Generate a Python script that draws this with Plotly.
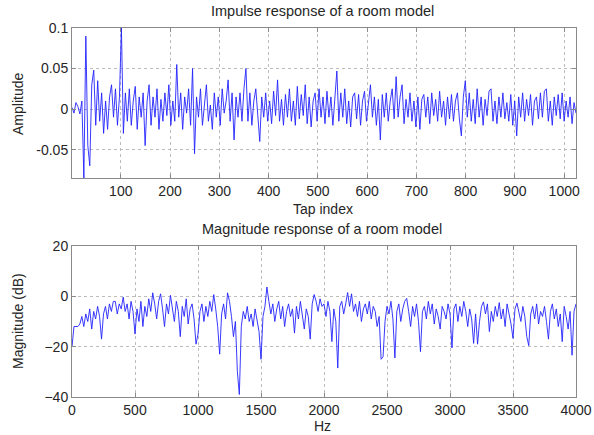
import numpy as np
import plotly.graph_objects as go

# ---------------- data ----------------
# Impulse response amplitude, in thousandths, 256 samples spanning taps 1..1024
impulse_milli = [
    2, -5, 8, 3, -6, 10, -85, 90, -45, -70, 30, 48, -20, 35, -15, 20,
    -30, 10, -25, 15, 30, -10, 25, -20, 15, 100, -30, 20, -15, 25, -20, 10,
    28, -25, 15, -10, 20, -45, 10, 30, -20, 15, -10, 25, -25, 12, -15, 20,
    -8, 30, -20, 10, -15, 55, -10, 20, -25, 15, -5, 25, -20, 50, -55, 15,
    -10, 25, -20, 10, 30, -15, 5, -25, 20, -10, 15, -20, 25, -5, 10, 36,
    -15, 20, -38, 15, -10, 20, -15, 25, 50, -15, 20, -20, 10, 25, -10, -40,
    15, -10, 20, -15, 10, -18, 22, -8, 36, -15, 12, -20, 18, -10, 25, -15,
    10, -20, 28, -12, 18, -8, 30, -18, 15, -22, 10, 20, -15, 25, -10, 15,
    -18, 22, -10, 15, -20, 12, 47, -15, 20, -10, 25, -18, 10, -22, 15, 20,
    -12, 18, -20, 10, 22, -15, 8, 30, -10, 15, -20, 12, -38, 18, -10, 20,
    -15, 10, 25, -12, 40, -10, 15, 30, -18, 12, -10, 20, -15, 10, -22, 15,
    -25, 12, 18, -10, 15, -18, 20, -8, 12, -15, 22, -10, 10, -20, 15, -12,
    18, -15, 10, 20, -12, -33, 15, 35, -10, 20, -15, 12, -18, 25, -10, 15,
    -20, 12, -8, 22, 25, -15, 10, -18, 15, -10, 20, -12, 8, -15, 18, -20,
    10, -33, 15, -10, 20, -15, 12, -8, 18, -20, 10, 15, -12, 20, -10, 22,
    25, -15, 10, -20, 15, -8, 18, -12, 20, -15, 10, -10, 15, -18, 8, -5,
]
tap_first, tap_last = 1, 1024

# Magnitude response in dB, 257 samples spanning 0..4000 Hz
magnitude_db = [
    -20, -12, -12, -12, -11, -8, -12, -7, -10, -5, -13, -6, -9, -4, -8, -17,
    -7, -4, -9, -3, -6, -2, -2, -7, -3, -5, -0.3, -6, -3, -9, -2, -6,
    -15, -5, -10, -2, -12, -4, -8, -1, -6, 1.4, -3, -9, -2, 1, -5, -12,
    -3, -7, 0.4, -4, -10, -2, -6, -16, -4, -8, -1, -11, -5, -3, -9, -19,
    -15, -6, -3, -10, -4, -8, -2, -6, 0.7, -5, -12, -23, -7, -3, -9, 1.4,
    -2, -8, -16, -10, -30, -39, -12, -6, -9, -4, -10, -7, -12, -5, -9, -14,
    -25, -8, -4, 3.7, -2, -7, -3, -10, -5, -2, -9, -4, -12, -6, -3, -8,
    -5, -14.6, -4, -9, -2, -7, -13, -5, -8, -17, -3, 0.7, -2, -6, -1, -4,
    -3, -8, -2, -6, -18, -5, -10, -28.5, -4, -2, -7, -3, 1.5, -4, 1, -6,
    -3, -8, -2, -10, -5, -3, -7, -2, -9, -4, -6, -12, -8, -25, -24, -10,
    -4, -7, -2, -9, -24.5, -6, -3, -10, -5, -2, -0.8, -6, -12, -4, -8, -3,
    -10, -22, -6, -4, -9, -2, -7, -3, -11, -5, -8, -13, -4, -6, -9, -3,
    -7, -20.5, -5, -3, -10, -4, -8, -2, -6, -12, -5, -9, -18.7, -7, -19, -10,
    -4, -2.2, -7, -3, -14, -6, -10, -4, -8, -2.5, -9, -5, -12, -3, -7, -11,
    -16.7, -5, -2.7, -6, -10, -4, -8, -16, -19.6, -7, -4, -9, -3, -11, -6, -8,
    -4, -10, -17, -6, -3, -9, -5, -12, -7, -18, -4, -8, -13, -6, -23.4, -6,
    -3,
]
freq_first, freq_last = 0, 4000

top_xticks = [100, 200, 300, 400, 500, 600, 700, 800, 900, 1000]
top_yticks = [-0.05, 0, 0.05, 0.1]
top_yticklabels = ["-0.05", "0", "0.05", "0.1"]
bot_xticks = [0, 500, 1000, 1500, 2000, 2500, 3000, 3500, 4000]
bot_yticks = [-40, -20, 0, 20]

taps = np.linspace(tap_first, tap_last, len(impulse_milli))
amplitude = np.array(impulse_milli) / 1000.0
freqs = np.linspace(freq_first, freq_last, len(magnitude_db))

# ---------------- figure ----------------
W, H = 594, 435
FONT = "Liberation Sans, Arial, Helvetica, sans-serif"
TXT = "#262626"
LINE = "#2222ff"

def px_x(p):
    return p / W

def px_y(p):
    return 1 - p / H

fig = go.Figure()
fig.add_trace(go.Scatter(x=taps, y=amplitude, mode="lines",
                         line=dict(color=LINE, width=0.9),
                         xaxis="x", yaxis="y", showlegend=False))
fig.add_trace(go.Scatter(x=freqs, y=magnitude_db, mode="lines",
                         line=dict(color=LINE, width=0.9),
                         xaxis="x2", yaxis="y2", showlegend=False))

axis_common = dict(
    showline=True, linecolor="#8a8a8a", linewidth=1, mirror="ticks",
    ticks="inside", ticklen=4, tickcolor="#8a8a8a", tickwidth=1,
    showgrid=True, gridcolor="#bcbcbc", griddash="dot", gridwidth=1,
    zeroline=False, tickfont=dict(family=FONT, size=14, color=TXT),
    fixedrange=True, automargin=False,
)

fig.update_layout(
    template="none",
    width=W, height=H,
    margin=dict(l=0, r=0, t=0, b=0, pad=0),
    paper_bgcolor="white", plot_bgcolor="white",
    font=dict(family=FONT, size=14, color=TXT),
    xaxis=dict(domain=[px_x(72), px_x(576)], range=[tap_first, tap_last],
               tickvals=top_xticks, anchor="y", **axis_common),
    yaxis=dict(domain=[px_y(178), px_y(28)], range=[-0.085, 0.1],
               tickvals=top_yticks, ticktext=top_yticklabels, anchor="x",
               **axis_common),
    xaxis2=dict(domain=[px_x(72), px_x(576)], range=[freq_first, freq_last],
                tickvals=bot_xticks, anchor="y2", **axis_common),
    yaxis2=dict(domain=[px_y(397), px_y(246)], range=[-40, 20],
                tickvals=bot_yticks, anchor="x2", **axis_common),
)

def label(text, x, y, angle=0, size=14):
    fig.add_annotation(text=text, x=px_x(x), y=px_y(y), xref="paper", yref="paper",
                       showarrow=False, textangle=angle, xanchor="center", yanchor="middle",
                       font=dict(family=FONT, size=size, color=TXT))

label("Impulse response of a room model", 322, 11, size=14.5)
label("Tap index", 323, 209)
label("Amplitude", 18, 104, angle=-90)
label("Magnitude response of a room model", 322, 229, size=14.5)
label("Hz", 322, 426)
label("Magnitude (dB)", 18, 321, angle=-90)

fig.write_html(
    "out.html",
    config={"displayModeBar": False, "staticPlot": True},
    post_script="document.body.style.margin='0';document.body.style.overflow='hidden';",
)
